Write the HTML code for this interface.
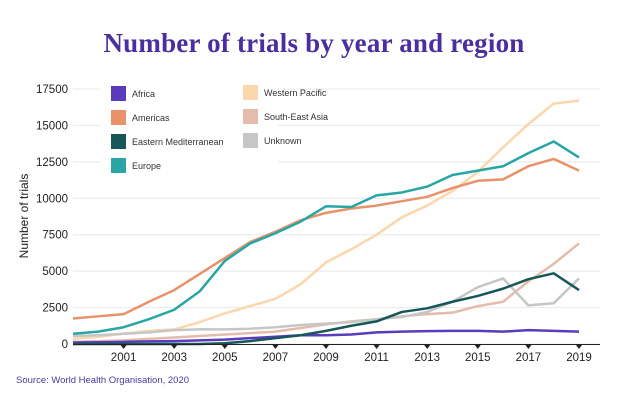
<!DOCTYPE html>
<html><head><meta charset="utf-8"><style>
body{margin:0;background:#fff;width:640px;height:400px;overflow:hidden}
svg{display:block}
</style></head><body>
<svg id="chart" width="640" height="400">
<text x="314" y="52" text-anchor="middle" font-family="Liberation Serif, serif" font-weight="bold" font-size="27" fill="#4b2f9e" letter-spacing="0.2">Number of trials by year and region</text>
<text x="28" y="216" transform="rotate(-90 28 216)" text-anchor="middle" font-family="Liberation Sans, sans-serif" font-size="12" fill="#222">Number of trials</text>
<text x="16" y="383" font-family="Liberation Sans, sans-serif" font-size="9.5" fill="#4b3a9e">Source: World Health Organisation, 2020</text>
<g id="grid"></g><g id="lines"></g><g id="axes"></g><g id="legend"></g>
</svg>
<script>
const years=[1999,2000,2001,2002,2003,2004,2005,2006,2007,2008,2009,2010,2011,2012,2013,2014,2015,2016,2017,2018,2019];
const yTicks=[0,2500,5000,7500,10000,12500,15000,17500];
const xTicks=[2001,2003,2005,2007,2009,2011,2013,2015,2017,2019];
const africa=[100,120,150,180,200,250,300,400,500,600,600,650,800,850,880,900,900,850,950,900,850];
const americas=[1750,1900,2050,2900,3700,4800,5900,7000,7700,8500,9000,9300,9500,9800,10100,10700,11200,11300,12200,12700,11900];
const eastMed=[0,0,0,0,0,0,50,200,400,600,900,1250,1550,2200,2450,2900,3300,3800,4450,4850,3700];
const europe=[700,850,1150,1700,2350,3600,5700,6900,7600,8400,9450,9400,10200,10400,10800,11600,11900,12200,13100,13900,12800];
const westPac=[350,500,700,900,1000,1500,2100,2600,3100,4100,5600,6500,7500,8700,9500,10500,11800,13500,15100,16500,16700];
const seAsia=[150,200,250,350,450,550,650,750,850,1100,1350,1550,1700,1900,2050,2150,2600,2900,4300,5500,6900];
const unknown=[550,600,700,800,950,1000,1000,1050,1150,1300,1400,1500,1700,1850,2200,2900,3900,4500,2650,2800,4500];
const NS='http://www.w3.org/2000/svg';
const X=y=>73+(y-1999)*25.3;
const Y=v=>344-v*(255/17500);
function mk(t,a,p){const e=document.createElementNS(NS,t);for(const k in a)e.setAttribute(k,a[k]);p.appendChild(e);return e;}
const grid=document.getElementById('grid'),axes=document.getElementById('axes'),lines=document.getElementById('lines'),leg=document.getElementById('legend');
yTicks.forEach(v=>{
 const l=mk('line',{x1:73,x2:600,y1:Y(v),y2:Y(v),stroke:'#e8e8ee','stroke-width':1},grid);
 
 
 const t=mk('text',{x:68,y:Y(v)+4,'text-anchor':'end','font-family':'Liberation Sans, sans-serif','font-size':11.5,fill:'#222'},axes);
 t.textContent=v;
 
 
});
const ax=mk('line',{x1:73,x2:600,y1:344.5,y2:344.5,stroke:'#222','stroke-width':1},axes);


xTicks.forEach(y=>{
 const m=mk('path',{d:`M${X(y)-3},345 L${X(y)+3},345 L${X(y)},349 Z`,fill:'#222'},axes);
 
 
 const t=mk('text',{x:X(y),y:361,'text-anchor':'middle','font-family':'Liberation Sans, sans-serif','font-size':11.5,fill:'#222'},axes);
 t.textContent=y;
 
 
});
const series=[
 ['Western Pacific',westPac,'#fad7ad','series-western-pacific'],
 ['South-East Asia',seAsia,'#e5bcab','series-south-east-asia'],
 ['Unknown',unknown,'#c6c6c6','series-unknown'],
 ['Africa',africa,'#5a3bbd','series-africa'],
 ['Americas',americas,'#e8926a','series-americas'],
 ['Europe',europe,'#2aa5a5','series-europe'],
 ['Eastern Mediterranean',eastMed,'#17575a','series-eastern-mediterranean']
];
series.forEach(s=>{
 const p=mk('polyline',{points:s[1].map((v,i)=>X(years[i])+','+Y(v)).join(' '),fill:'none',stroke:s[2],'stroke-width':2.5,'stroke-linejoin':'round'},lines);
 
 
});
const legItems=[['Africa','#5a3bbd',111,94],['Americas','#e8926a',111,118],['Eastern Mediterranean','#17575a',111,142],['Europe','#2aa5a5',111,166],
['Western Pacific','#fad7ad',243,93],['South-East Asia','#e5bcab',243,117],['Unknown','#c6c6c6',243,141]];
mk('rect',{x:100,y:82,width:178,height:100,fill:'#fff'},leg);
legItems.forEach(it=>{
 const g=mk('g',{},leg);
 
 
 mk('rect',{x:it[2],y:it[3]-8,width:15,height:15,fill:it[1]},g);
 const t=mk('text',{x:it[2]+21,y:it[3]+3,'font-family':'Liberation Sans, sans-serif','font-size':9,fill:'#333'},g);
 t.textContent=it[0];
});
</script>
</body></html>
